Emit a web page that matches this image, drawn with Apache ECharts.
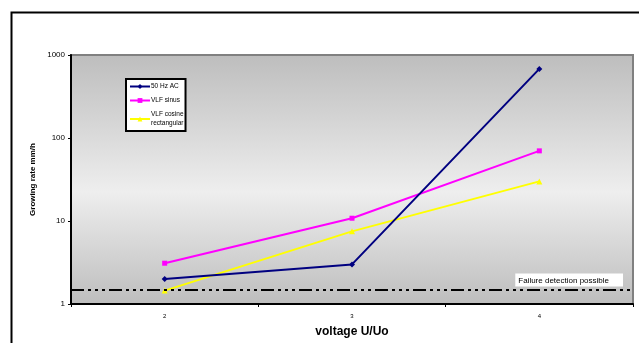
<!DOCTYPE html>
<html>
<head>
<meta charset="utf-8">
<script src="https://cdn.jsdelivr.net/npm/echarts@6/dist/echarts.min.js"></script>
<style>
html,body{margin:0;padding:0;background:#fff;}
#chart{width:639px;height:343px;}
</style>
</head>
<body>
<div id="chart"></div>
<script>
const categories = ['2', '3', '4'];
const ac50Hz = [2.0, 3.0, 680];
const vlfSinus = [3.1, 10.8, 70];
const vlfCosineRect = [1.45, 7.5, 30];
const failureThreshold = 1.5;
const seriesNames = ['50 Hz AC', 'VLF sinus', 'VLF cosine\nrectangular'];

const FONT = '"Liberation Sans", Arial, sans-serif';
const chart = echarts.init(document.getElementById('chart'), null, {renderer: 'canvas'});

chart.setOption({
  animation: false,
  textStyle: {fontFamily: FONT},
  graphic: [{
    type: 'rect', left: 9, top: 10, z: -10,
    shape: {width: 660, height: 360},
    style: {fill: 'none', stroke: '#000', lineWidth: 2}
  }],
  grid: {
    left: 71, top: 55, right: 6, bottom: 34,
    show: true,
    borderColor: '#808080', borderWidth: 2,
    backgroundColor: new echarts.graphic.LinearGradient(0, 0, 0, 1, [
      {offset: 0, color: '#bdbdbd'},
      {offset: 0.55, color: '#eeeeee'},
      {offset: 1, color: '#bdbdbd'}
    ])
  },
  legend: {
    orient: 'vertical',
    left: 126, top: 79,
    width: 62,
    padding: [3, 2, 3, 3],
    itemGap: 5,
    itemWidth: 20, itemHeight: 6,
    backgroundColor: '#fff',
    borderColor: '#000', borderWidth: 2,
    textStyle: {fontSize: 6.5, fontFamily: FONT, color: '#000', lineHeight: 9, padding: [0, 0, 0, -4]},
    data: seriesNames
  },
  xAxis: {
    type: 'category',
    data: categories,
    boundaryGap: true,
    name: 'voltage U/Uo',
    nameLocation: 'middle',
    nameGap: 22,
    nameTextStyle: {fontSize: 12, fontWeight: 'bold', color: '#000', fontFamily: FONT},
    axisLine: {lineStyle: {color: '#000', width: 2}},
    axisTick: {show: true, length: 3, lineStyle: {color: '#000'}},
    axisLabel: {fontSize: 6, color: '#000', margin: 9},
    splitLine: {show: false}
  },
  yAxis: {
    type: 'log',
    logBase: 10,
    min: 1, max: 1000,
    name: 'Growing rate mm/h',
    nameLocation: 'middle',
    nameGap: 26,
    nameRotate: 90,
    nameTextStyle: {fontSize: 8, fontWeight: 'bold', color: '#000', fontFamily: FONT},
    axisLine: {show: true, lineStyle: {color: '#000', width: 2}},
    axisTick: {show: true, length: 3, lineStyle: {color: '#000'}},
    axisLabel: {fontSize: 8, color: '#000', margin: 6, formatter: function (v) { return String(v); }},
    splitLine: {show: false},
    minorTick: {show: false}
  },
  series: [
    {
      name: seriesNames[0], type: 'line', data: ac50Hz,
      symbol: 'diamond', symbolSize: 6,
      lineStyle: {color: '#000080', width: 2},
      itemStyle: {color: '#000080'},
      z: 5,
      markLine: {
        silent: true, symbol: 'none',
        lineStyle: {color: '#000', width: 2, type: [13, 4, 3, 4, 3, 4, 3, 4]},
        label: {
          show: true, position: 'insideEndTop', formatter: 'Failure detection possible',
          fontSize: 8, color: '#000', backgroundColor: '#fff', padding: [3, 14, 2, 3], distance: [10, 3],
          fontFamily: FONT
        },
        data: [{yAxis: failureThreshold}]
      }
    },
    {
      name: seriesNames[1], type: 'line', data: vlfSinus,
      symbol: 'rect', symbolSize: 5,
      lineStyle: {color: '#ff00ff', width: 2},
      itemStyle: {color: '#ff00ff'}
    },
    {
      name: seriesNames[2], type: 'line', data: vlfCosineRect,
      symbol: 'triangle', symbolSize: 6,
      lineStyle: {color: '#ffff00', width: 2},
      itemStyle: {color: '#ffff00'}
    }
  ]
});
</script>
</body>
</html>
